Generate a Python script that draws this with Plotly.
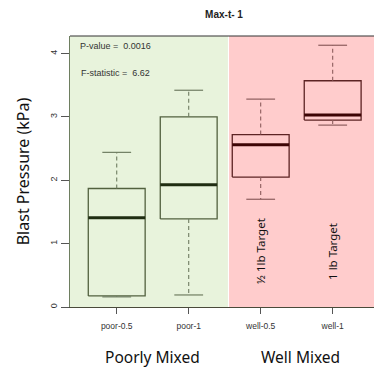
import plotly.graph_objects as go

categories = ["poor-0.5", "poor-1", "well-0.5", "well-1"]
lower_whisker = [0.16, 0.19, 1.70, 2.87]
q1 = [0.175, 1.39, 2.05, 2.95]
median = [1.41, 1.93, 2.56, 3.03]
q3 = [1.87, 3.00, 2.72, 3.57]
upper_whisker = [2.44, 3.42, 3.28, 4.13]
group_of = ["poor", "poor", "well", "well"]

box_line = {"poor": "#52613f", "well": "#5c2323"}
med_line = {"poor": "#1f2d12", "well": "#3d0505"}
wh_line = {"poor": "#6f7d62", "well": "#8d5d5d"}

HW = 0.395   # box half width
CW = 0.2     # cap half width

fig = go.Figure()

for i, cat in enumerate(categories):
    g = group_of[i]
    fig.add_trace(go.Scatter(
        x=[i - HW, i + HW, i + HW, i - HW, i - HW],
        y=[q1[i], q1[i], q3[i], q3[i], q1[i]],
        mode="lines", line=dict(color=box_line[g], width=1.3),
        hoverinfo="skip", showlegend=False))
    fig.add_trace(go.Scatter(
        x=[i, i, None, i, i], y=[q3[i], upper_whisker[i], None, q1[i], lower_whisker[i]],
        mode="lines", line=dict(color=wh_line[g], width=1.1, dash="4px,3px"),
        hoverinfo="skip", showlegend=False))
    fig.add_trace(go.Scatter(
        x=[i - CW, i + CW, None, i - CW, i + CW],
        y=[upper_whisker[i], upper_whisker[i], None, lower_whisker[i], lower_whisker[i]],
        mode="lines", line=dict(color=wh_line[g], width=1.2),
        hoverinfo="skip", showlegend=False))
    fig.add_trace(go.Scatter(
        x=[i - HW, i + HW], y=[median[i], median[i]],
        mode="lines", line=dict(color=med_line[g], width=3),
        hoverinfo="skip", showlegend=False))

shapes = [
    dict(type="rect", xref="x", yref="paper", x0=-0.7, x1=1.545, y0=0, y1=1,
         fillcolor="#e8f3dc", line_width=0, layer="below"),
    dict(type="rect", xref="x", yref="paper", x0=1.56, x1=4.0, y0=0, y1=1,
         fillcolor="#ffcccc", line_width=0, layer="below"),
    dict(type="line", xref="paper", yref="paper", x0=0, x1=1, y0=1, y1=1,
         line=dict(color="#333333", width=1.2)),
]

annotations = [
    dict(text="P-value =  0.0016", xref="paper", yref="paper", x=0.026, y=0.963,
         xanchor="left", yanchor="middle", showarrow=False,
         font=dict(family="Liberation Sans, Arial", size=9, color="#333333")),
    dict(text="F-statistic =  6.62", xref="paper", yref="paper", x=0.03, y=0.862,
         xanchor="left", yanchor="middle", showarrow=False,
         font=dict(family="Liberation Sans, Arial", size=9, color="#333333")),
    dict(text="½ 1lb Target", xref="x", yref="y", x=2, y=0.88, textangle=-90,
         showarrow=False, font=dict(family="Noto Sans", size=11.5, color="#111111")),
    dict(text="1 lb Target", xref="x", yref="y", x=3, y=0.88, textangle=-90,
         showarrow=False, font=dict(family="Noto Sans", size=11.5, color="#111111")),
    dict(text="Poorly Mixed", xref="x", yref="paper", x=0.5, y=0, yshift=-50,
         showarrow=False, yanchor="middle",
         font=dict(family="Noto Sans", size=15.5, color="#111111")),
    dict(text="Well Mixed", xref="x", yref="paper", x=2.55, y=0, yshift=-50,
         showarrow=False, yanchor="middle",
         font=dict(family="Noto Sans", size=15.5, color="#111111")),
]

fig.update_layout(
    width=374, height=372,
    margin=dict(l=70, r=0, t=36, b=65),
    paper_bgcolor="white", plot_bgcolor="white",
    title=dict(text="<b>Max-t- 1</b>", x=224 / 374, xanchor="center", y=1 - 14 / 372,
               yanchor="middle", font=dict(family="Liberation Sans, Arial", size=10, color="#222222")),
    shapes=shapes, annotations=annotations,
    xaxis=dict(range=[-0.649, 3.574], tickvals=list(range(len(categories))), ticktext=categories,
               showgrid=False, zeroline=False, showline=True, linecolor="#4a4a3a", linewidth=1.2,
               ticks="outside", ticklen=6, tickcolor="#555555", ticklabelstandoff=5,
               tickfont=dict(family="Liberation Sans, Arial", size=8.5, color="#333333")),
    yaxis=dict(range=[0, 4.276], tickvals=[0, 1, 2, 3, 4], showgrid=False, zeroline=False,
               showline=True, linecolor="#6e7e60", linewidth=1.3,
               ticks="outside", ticklen=8, tickcolor="#555555", tickangle=-90,
               tickfont=dict(family="Liberation Sans, Arial", size=9, color="#333333"),
               title=dict(text="Blast Pressure (kPa)", standoff=15,
                          font=dict(family="Noto Sans", size=16, color="#111111"))),
)

fig.write_html("out.html")
